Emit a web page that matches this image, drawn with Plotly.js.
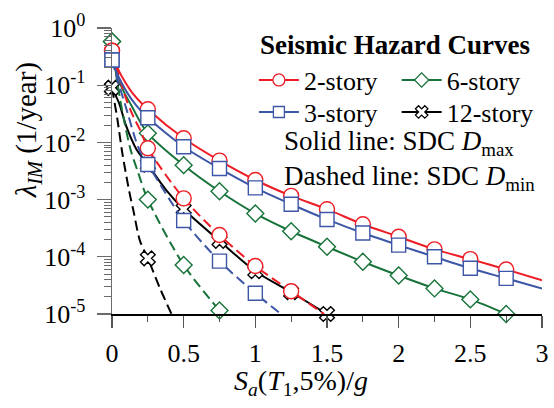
<!DOCTYPE html>
<html>
<head>
<meta charset="utf-8">
<script src="https://cdn.plot.ly/plotly-3.0.1.min.js"></script>
<style>
  html, body { margin: 0; padding: 0; background: #fff; }
  #chart { width: 554px; height: 408px; }
</style>
</head>
<body>
<div id="chart"></div>
<script>
// Spectral-acceleration grid where hazard values are marked
const saGrid = [0, 0.25, 0.5, 0.75, 1, 1.25, 1.5, 1.75, 2, 2.25, 2.5, 2.75];

// Mean annual frequency of exceedance, SDC Dmax (solid)
const story2Max  = [0.40, 0.038, 0.0118, 0.0048, 0.0022, 0.00116, 6.8e-4, 3.7e-4, 2.24e-4, 1.35e-4, 9.1e-5, 6.0e-5];
const story3Max  = [0.275, 0.027, 0.0084, 0.0035, 0.0016, 8.3e-4, 4.5e-4, 2.6e-4, 1.6e-4, 1.0e-4, 6.3e-5, 4.2e-5];
const story6Max  = [0.58, 0.0144, 0.0040, 0.0014, 5.7e-4, 2.8e-4, 1.5e-4, 8.2e-5, 4.7e-5, 2.8e-5, 1.8e-5, 1.0e-5];
const story12Max = [0.09, 0.0041, 6.8e-4, 1.9e-4, 5.6e-5, 2.4e-5, 1.0e-5];

// Mean annual frequency of exceedance, SDC Dmin (dashed)
const story2Min  = [0.40, 0.0079, 0.00105, 2.4e-4, 6.9e-5, 2.5e-5];
const story3Min  = [0.275, 0.0041, 4.3e-4, 8.4e-5, 2.3e-5];
const story6Min  = [0.58, 0.0010, 7.2e-5, 1.15e-5];
const story12Min = [0.09, 9.4e-5];

// Additional points along each continuous curve (between / beyond the marked grid)
const story2MaxCurveSa  = [0.02, 0.05, 0.1, 0.15, 3.0];
const story2MaxCurveL   = [0.275, 0.174, 0.105, 0.069, 3.9e-5];
const story3MaxCurveSa  = [0.03, 0.1, 0.17, 3.0];
const story3MaxCurveL   = [0.17, 0.078, 0.044, 2.8e-5];
const story6MaxCurveSa  = [0.03, 0.08, 0.14, 0.2];
const story6MaxCurveL   = [0.16, 0.079, 0.042, 0.022];
const story12MaxCurveSa = [0.05, 0.1, 0.17, 0.375];
const story12MaxCurveL  = [0.048, 0.019, 0.0076, 0.0015];

const story2MinCurveSa  = [0.05, 0.1, 0.15, 0.2, 1.48];
const story2MinCurveL   = [0.141, 0.056, 0.028, 0.0158, 1.0e-5];
const story3MinCurveSa  = [0.05, 0.11, 0.165, 0.21, 1.18];
const story3MinCurveL   = [0.10, 0.032, 0.011, 0.0058, 1.0e-5];
const story6MinCurveSa  = [0.04, 0.084, 0.13, 0.176];
const story6MinCurveL   = [0.10, 0.0245, 0.0074, 0.0033];
const story12MinCurveSa = [0.037, 0.072, 0.12, 0.15, 0.195, 0.335, 0.415];
const story12MinCurveL  = [0.026, 0.0065, 0.0014, 6.3e-4, 1.9e-4, 2.8e-5, 1.0e-5];

// Axis ticks
const yTickVals = [1, 0.1, 0.01, 0.001, 0.0001, 0.00001];
const yTickText = ['10<sup>0</sup>', '10<sup>-1</sup>', '10<sup>-2</sup>', '10<sup>-3</sup>', '10<sup>-4</sup>', '10<sup>-5</sup>'];
const xTickVals = [0, 0.5, 1, 1.5, 2, 2.5, 3];
const xTickText = ['0', '0.5', '1', '1.5', '2', '2.5', '3'];

const FONT = 'Liberation Serif, serif';

// One legend box per entry so the two-column key can be placed freely
const styles = {
  s2:  { name: '2-story',  color: '#ee1c24', symbol: 'circle',  size: 15, legend: 'legend'  },
  s3:  { name: '3-story',  color: '#3d56a6', symbol: 'square',  size: 14, legend: 'legend2' },
  s6:  { name: '6-story',  color: '#17733a', symbol: 'diamond', size: 13, legend: 'legend3' },
  s12: { name: '12-story', color: '#000000', symbol: 'x',       size: 13, legend: 'legend4' }
};

function curve(markVals, extraSa, extraL) {
  const pts = markVals.map((v, i) => [saGrid[i], v]);
  extraSa.forEach((s, i) => pts.push([s, extraL[i]]));
  pts.sort((a, b) => a[0] - b[0]);
  return { x: pts.map(p => p[0]), y: pts.map(p => p[1]) };
}

function lineTrace(st, markVals, extraSa, extraL, dash) {
  const c = curve(markVals, extraSa, extraL);
  return {
    type: 'scatter', mode: 'lines', x: c.x, y: c.y, showlegend: false, hoverinfo: 'skip',
    line: { color: st.color, width: 2, dash: dash, shape: 'spline', smoothing: 0.8 }
  };
}

function markerTrace(st, markVals) {
  return {
    type: 'scatter', mode: 'markers', x: saGrid.slice(0, markVals.length), y: markVals,
    showlegend: false, cliponaxis: false, hoverinfo: 'skip',
    marker: { symbol: st.symbol, size: st.size, color: '#ffffff', line: { color: st.color, width: 1.4 } }
  };
}

function legendTrace(st) {
  return {
    type: 'scatter', mode: 'lines+markers', x: [null], y: [null], name: st.name, legend: st.legend,
    line: { color: st.color, width: 2 },
    marker: { symbol: st.symbol, size: st.symbol === 'circle' ? 12 : 11, color: '#ffffff', line: { color: st.color, width: 1.3 } }
  };
}

const DASH = '10px,5px';
const data = [
  lineTrace(styles.s12, story12Min, story12MinCurveSa, story12MinCurveL, DASH),
  lineTrace(styles.s12, story12Max, story12MaxCurveSa, story12MaxCurveL, 'solid'),
  markerTrace(styles.s12, story12Min),
  markerTrace(styles.s12, story12Max),
  lineTrace(styles.s6, story6Min, story6MinCurveSa, story6MinCurveL, DASH),
  lineTrace(styles.s6, story6Max, story6MaxCurveSa, story6MaxCurveL, 'solid'),
  markerTrace(styles.s6, story6Min),
  markerTrace(styles.s6, story6Max),
  lineTrace(styles.s2, story2Min, story2MinCurveSa, story2MinCurveL, DASH),
  lineTrace(styles.s2, story2Max, story2MaxCurveSa, story2MaxCurveL, 'solid'),
  markerTrace(styles.s2, story2Min),
  markerTrace(styles.s2, story2Max),
  lineTrace(styles.s3, story3Min, story3MinCurveSa, story3MinCurveL, DASH),
  lineTrace(styles.s3, story3Max, story3MaxCurveSa, story3MaxCurveL, 'solid'),
  markerTrace(styles.s3, story3Min),
  markerTrace(styles.s3, story3Max),
  legendTrace(styles.s2),
  legendTrace(styles.s3),
  legendTrace(styles.s6),
  legendTrace(styles.s12)
];

function legendBox(x, y) {
  return {
    x: x, y: y, xanchor: 'left', yanchor: 'middle',
    bgcolor: 'rgba(0,0,0,0)', borderwidth: 0, orientation: 'v', itemwidth: 40,
    font: { family: FONT, size: 26, color: '#000' }
  };
}

const layout = {
  width: 554, height: 408,
  margin: { l: 112, r: 12, t: 28, b: 94 },
  paper_bgcolor: '#fff', plot_bgcolor: '#fff',
  font: { family: FONT, size: 26, color: '#000' },
  showlegend: true,
  legend:  legendBox(0.33, 0.818),
  legend2: legendBox(0.33, 0.706),
  legend3: legendBox(0.662, 0.818),
  legend4: legendBox(0.662, 0.706),
  xaxis: {
    type: 'linear', range: [0, 3], showgrid: false, zeroline: false,
    showline: true, linecolor: '#000', linewidth: 1.5, mirror: false,
    tickmode: 'array', tickvals: xTickVals, ticktext: xTickText,
    ticks: 'outside', ticklen: 12, tickwidth: 1.3, tickcolor: '#555',
    ticklabelstandoff: 3,
    tickfont: { family: FONT, size: 26, color: '#000' },
    minor: { dtick: 0.25, ticks: 'outside', ticklen: 6, tickwidth: 1.3, tickcolor: '#555', showgrid: false }
  },
  yaxis: {
    type: 'log', range: [-5, 0], showgrid: false, zeroline: false,
    showline: true, linecolor: '#6a6a6a', linewidth: 1.5,
    tickmode: 'array', tickvals: yTickVals, ticktext: yTickText,
    ticks: 'outside', ticklen: 14, tickwidth: 1.3, tickcolor: '#6a6a6a',
    ticklabelstandoff: 6,
    tickfont: { family: FONT, size: 26, color: '#000' },
    minor: { dtick: 'D1', ticks: 'outside', ticklen: 7, tickwidth: 1, tickcolor: '#6a6a6a', showgrid: false }
  },
  annotations: [
    { xref: 'paper', yref: 'paper', x: 0.3395, y: 0.9406, xanchor: 'left', yanchor: 'middle', showarrow: false,
      text: '<b>Seismic Hazard Curves</b>', font: { family: FONT, size: 27, color: '#000' } },
    { xref: 'paper', yref: 'paper', x: 0.395, y: 0.598, xanchor: 'left', yanchor: 'middle', showarrow: false,
      text: 'Solid line: SDC <i>D</i><sub>max</sub>', font: { family: FONT, size: 27, color: '#000' } },
    { xref: 'paper', yref: 'paper', x: 0.395, y: 0.4755, xanchor: 'left', yanchor: 'middle', showarrow: false,
      text: 'Dashed line: SDC <i>D</i><sub>min</sub>', font: { family: FONT, size: 27, color: '#000' } },
    { xref: 'paper', yref: 'paper', x: 0.44, y: -0.238, xanchor: 'center', yanchor: 'middle', showarrow: false,
      text: '<i>S</i><sub><i>a</i></sub>(<i>T</i><sub>1</sub>,5%)/<i>g</i>', font: { family: FONT, size: 28, color: '#000' } },
    { xref: 'paper', yref: 'paper', x: -0.195, y: 0.643, xanchor: 'center', yanchor: 'middle', showarrow: false,
      textangle: -90,
      text: '<i>λ</i><sub><i>IM</i></sub> (1/year)', font: { family: FONT, size: 29, color: '#000' } }
  ]
};

Plotly.newPlot('chart', data, layout, { staticPlot: true, displayModeBar: false });
</script>
</body>
</html>
